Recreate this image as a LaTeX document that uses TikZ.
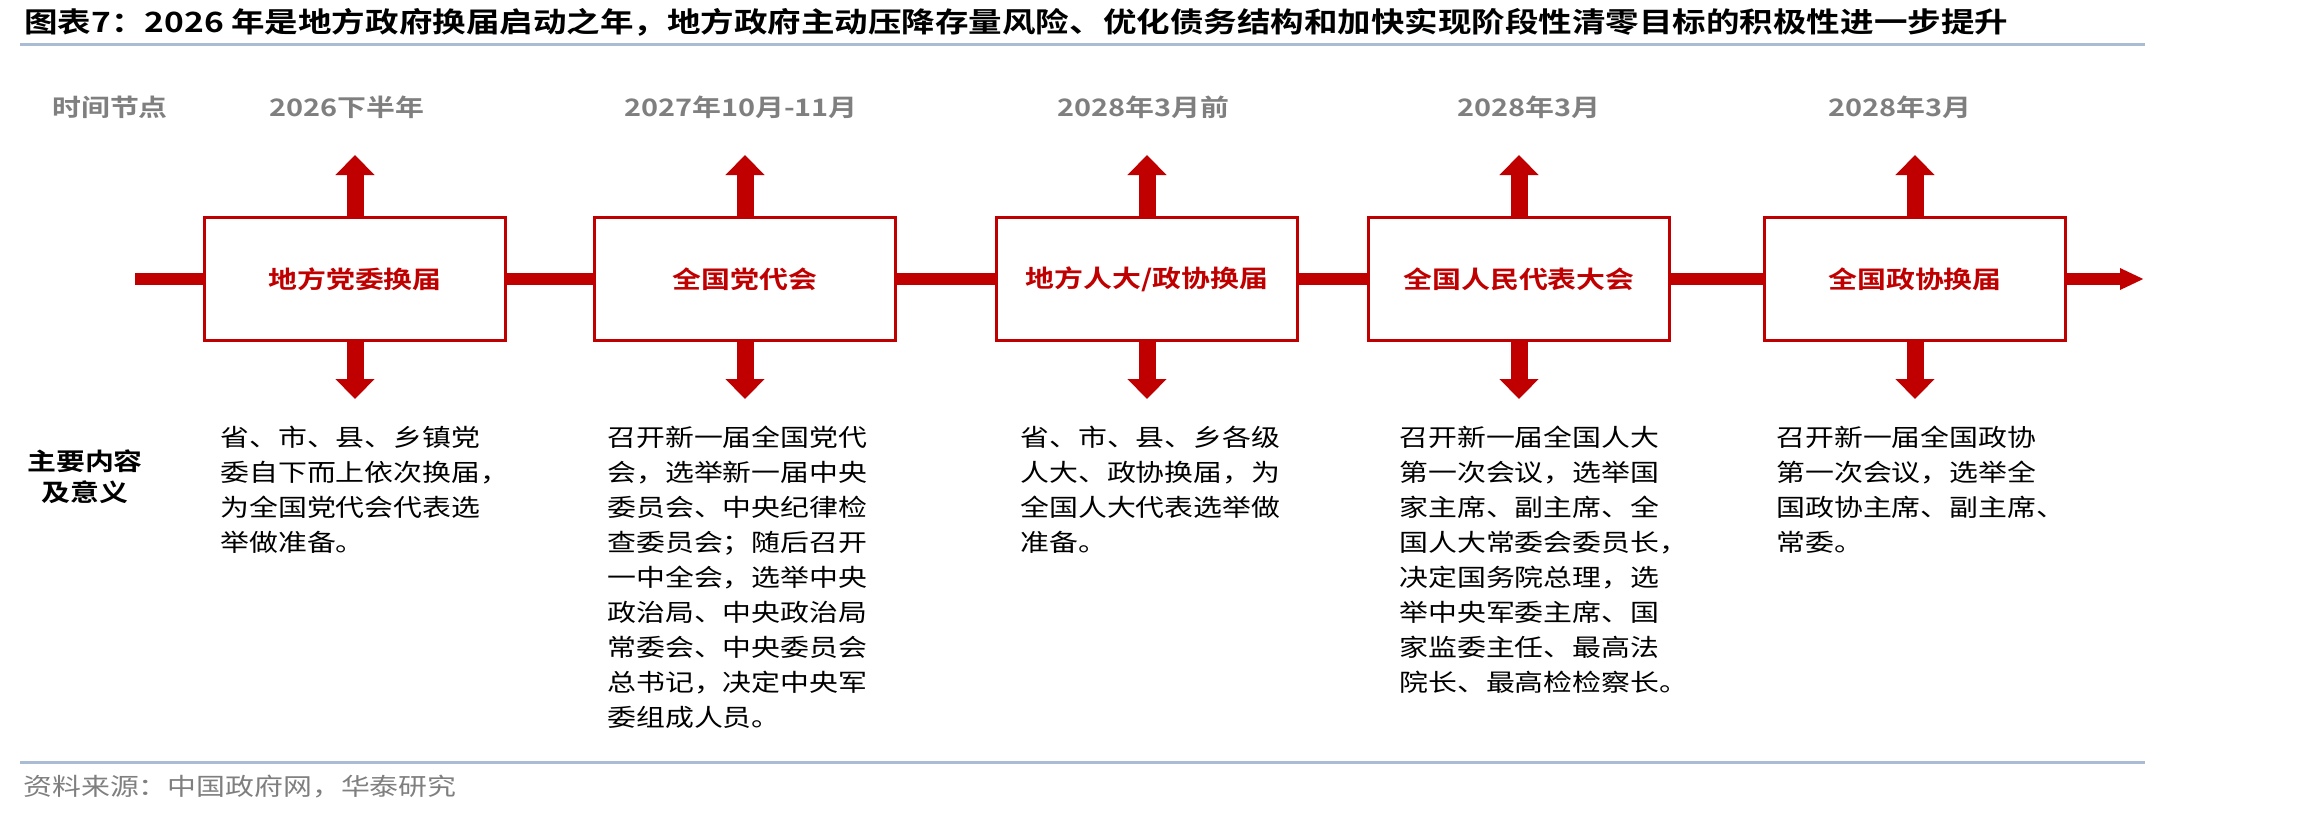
\documentclass[tikz,border=0pt]{standalone}
\usepackage{fontspec}
\setmainfont{Noto Sans CJK SC}[FakeStretch=1.2, BoldFont={* Bold}]
\usepackage{xcolor}
\usetikzlibrary{positioning, arrows.meta}

\definecolor{hred}{HTML}{C00000}
\definecolor{hgrey}{HTML}{7F7F7F}
\definecolor{hrule}{HTML}{A9BCD4}

\begin{document}
\begin{tikzpicture}[
    x=0.02cm, y=-0.02cm,
    stage/.style={
        rectangle,
        draw=hred,
        line width=0.06cm,
        fill=white,
        minimum width=6.04cm,
        minimum height=2.46cm,
        text=hred,
        font=\fontsize{13.7}{16}\selectfont\bfseries
    },
    when/.style={text=hgrey, inner sep=0pt, font=\fontsize{13.7}{16}\selectfont\bfseries},
    note/.style={anchor=north west, align=left, inner sep=0pt, font=\fontsize{13.7}{19.9}\selectfont},
    link/.style={draw=hred, line width=0.24cm},
    updown/.style={draw=hred, line width=0.34cm, -{Triangle[width=0.76cm, length=0.4cm]}},
    rulel/.style={draw=hrule, line width=0.06cm}
]
\useasboundingbox (0,0) rectangle (2298,816);

\node[anchor=west, inner sep=0pt, font=\fontsize{15.9}{18}\selectfont\bfseries] (title) at (24,22)
    {图表7：2026 年是地方政府换届启动之年，地方政府主动压降存量风险、优化债务结构和加快实现阶段性清零目标的积极性进一步提升};
\coordinate (rtl) at (20,44);
\coordinate (rtr) at (2145,44);
\draw[rulel] (rtl) -- (rtr);

% time row
\node[when] (tlabel) at (110,107) {时间节点};
\node[when] (t1) at (347,107) {2026下半年};
\node[when] (t2) at (741,107) {2027年10月-11月};
\node[when] (t3) at (1143,107) {2028年3月前};
\node[when] (t4) at (1529,107) {2028年3月};
\node[when] (t5) at (1900,107) {2028年3月};

% stages
\node[stage] (s1) at (355,279) {地方党委换届};
\node[stage] (s2) at (745,279) {全国党代会};
\node[stage] (s3) at (1147,279) {地方人大/政协换届};
\node[stage] (s4) at (1519,279) {全国人民代表大会};
\node[stage] (s5) at (1915,279) {全国政协换届};

% timeline
\coordinate (tstart) at (135,279);
\coordinate (tend) at (2144,279);
\draw[link] (tstart) -- (s1);
\draw[link] (s1) -- (s2);
\draw[link] (s2) -- (s3);
\draw[link] (s3) -- (s4);
\draw[link] (s4) -- (s5);
\draw[link, -{Triangle[width=0.4cm, length=0.48cm]}] (s5) -- (tend);

% up and down arrows
\draw[updown] (s1.north) -- ++(0,-61);
\draw[updown] (s2.north) -- ++(0,-61);
\draw[updown] (s3.north) -- ++(0,-61);
\draw[updown] (s4.north) -- ++(0,-61);
\draw[updown] (s5.north) -- ++(0,-61);
\draw[updown] (s1.south) -- ++(0,57);
\draw[updown] (s2.south) -- ++(0,57);
\draw[updown] (s3.south) -- ++(0,57);
\draw[updown] (s4.south) -- ++(0,57);
\draw[updown] (s5.south) -- ++(0,57);

% contents
\node[align=center, inner sep=0pt, font=\fontsize{13.7}{17.6}\selectfont\bfseries] (mlabel) at (85,477) {主要内容\\及意义};
\node[note] (d1) at (220,426) {省、市、县、乡镇党\\委自下而上依次换届，\\为全国党代会代表选\\举做准备。};
\node[note] (d2) at (607,426) {召开新一届全国党代\\会，选举新一届中央\\委员会、中央纪律检\\查委员会；随后召开\\一中全会，选举中央\\政治局、中央政治局\\常委会、中央委员会\\总书记，决定中央军\\委组成人员。};
\node[note] (d3) at (1020,426) {省、市、县、乡各级\\人大、政协换届，为\\全国人大代表选举做\\准备。};
\node[note] (d4) at (1399,426) {召开新一届全国人大\\第一次会议，选举国\\家主席、副主席、全\\国人大常委会委员长，\\决定国务院总理，选\\举中央军委主席、国\\家监委主任、最高法\\院长、最高检检察长。};
\node[note] (d5) at (1776,426) {召开新一届全国政协\\第一次会议，选举全\\国政协主席、副主席、\\常委。};

% source
\coordinate (rbl) at (20,762);
\coordinate (rbr) at (2145,762);
\draw[rulel] (rbl) -- (rbr);
\node[anchor=west, inner sep=0pt, text=hgrey, font=\fontsize{13.7}{16}\selectfont] (src) at (23,787) {资料来源：中国政府网，华泰研究};

\end{tikzpicture}
\end{document}
